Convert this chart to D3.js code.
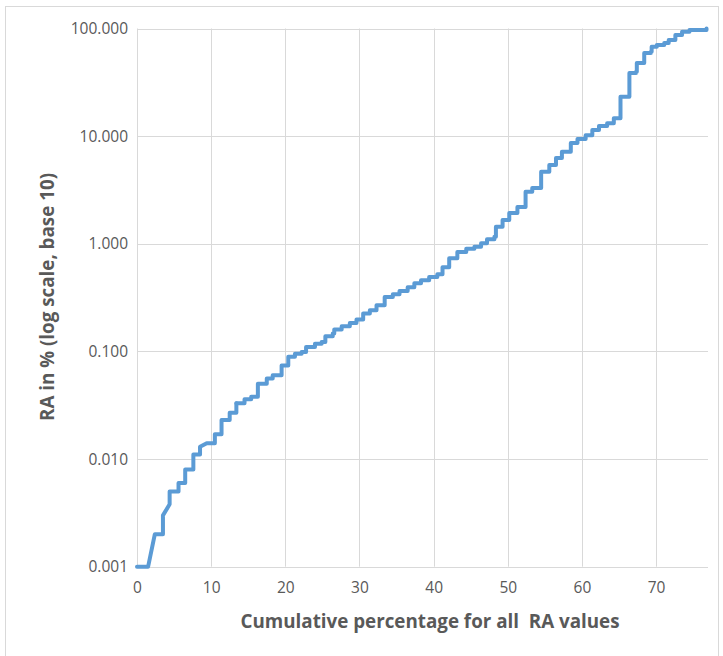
<!DOCTYPE html>
<html>
<head>
<meta charset="utf-8">
<script src="https://cdn.jsdelivr.net/npm/d3@7"></script>
<style>
  html, body { margin: 0; padding: 0; background: #ffffff; }
  svg { display: block; }
  text { font-family: "Open Sans", "Liberation Sans", sans-serif; fill: #595959; }
</style>
</head>
<body>
<svg id="chart" width="723" height="656"></svg>
<script>
// ---- data ----
const xTicks = [0, 10, 20, 30, 40, 50, 60, 70];
const yTicks = [0.001, 0.01, 0.1, 1, 10, 100];
const xTitle = "Cumulative percentage for all  RA values";
const yTitle = "RA in % (log scale, base 10)";

// cumulative percentage (x) and RA in % (y) of the stepped curve
const cumPct = [
  0, 1.5, 2.4, 3.5, 3.5, 4.4, 4.4, 5.6, 5.6, 6.5, 6.5, 7.6, 7.6, 8.5, 8.5, 9.4,
  10.5, 10.5, 11.4, 11.4, 12.5, 12.5, 13.4, 13.4, 14.5, 15.4, 16.3, 16.3, 17.5, 18.3,
  19.5, 19.5, 20.4, 21.3, 22.2, 22.8, 24.0, 24.9, 25.4, 26.4, 26.6, 27.6, 28.7, 29.6,
  30.5, 31.4, 32.3, 33.4, 34.5, 35.4, 36.5, 37.4, 38.3, 39.4, 40.5, 41.2, 42.1, 43.2,
  44.4, 45.5, 46.4, 47.2, 48.2, 48.4, 49.3, 50.2, 51.3, 52.4, 53.3, 54.5, 54.5, 55.6,
  56.5, 57.3, 58.5, 59.4, 60.5, 61.4, 62.3, 63.4, 64.3, 64.3, 65.2, 65.2, 66.4, 66.4,
  67.3, 67.4, 68.1, 68.4, 69.3, 69.4, 70.1, 71.1, 71.7, 72.6, 73.5, 74.5, 76.8
];
const raPct = [
  0.001, 0.001, 0.002, 0.002, 0.003, 0.0038, 0.005, 0.005, 0.006, 0.006, 0.008, 0.008,
  0.011, 0.011, 0.013, 0.014, 0.014, 0.017, 0.017, 0.023, 0.023, 0.027, 0.027, 0.033,
  0.036, 0.038, 0.041, 0.050, 0.056, 0.060, 0.066, 0.074, 0.089, 0.095, 0.099, 0.110,
  0.118, 0.122, 0.138, 0.147, 0.160, 0.171, 0.184, 0.198, 0.225, 0.241, 0.269, 0.321,
  0.340, 0.365, 0.395, 0.430, 0.459, 0.492, 0.521, 0.605, 0.734, 0.841, 0.897, 0.936,
  1.01, 1.10, 1.16, 1.44, 1.66, 1.93, 2.20, 3.04, 3.29, 3.66, 4.66, 5.38, 6.25, 7.15,
  8.62, 9.39, 10.2, 11.4, 12.4, 13.2, 13.6, 14.7, 16.4, 23.2, 24.1, 38.6, 39.7, 47.8,
  47.8, 59.2, 60.8, 67.7, 70.3, 73.3, 78.2, 87.0, 93.4, 96.8, 100
];
// the first points are joined straight; after this index the curve is drawn as steps
const stepFrom = 23;

// ---- layout ----
const plot = { left: 137, right: 708, top: 28.5, bottom: 566.7 };

const svg = d3.select("#chart");

// outer chart border
svg.append("rect")
  .attr("x", 5.5).attr("y", 6.5)
  .attr("width", 713).attr("height", 720)
  .attr("fill", "#ffffff")
  .attr("stroke", "#d9d9d9").attr("stroke-width", 1);

const x = d3.scaleLinear().domain([0, 77]).range([plot.left, plot.right]);
const y = d3.scaleLog().domain([0.001, 100]).range([plot.bottom, plot.top]);

// gridlines
const grid = svg.append("g");
grid.selectAll("line.v").data(xTicks).join("line")
  .attr("class", "v")
  .attr("x1", d => Math.round(x(d)) + 0.5).attr("x2", d => Math.round(x(d)) + 0.5)
  .attr("y1", plot.top).attr("y2", plot.bottom)
  .attr("stroke", "#d9d9d9").attr("stroke-width", 1);
grid.selectAll("line.h").data(yTicks).join("line")
  .attr("class", "h")
  .attr("x1", plot.left).attr("x2", plot.right)
  .attr("y1", d => Math.round(y(d)) + 0.5).attr("y2", d => Math.round(y(d)) + 0.5)
  .attr("stroke", "#d9d9d9").attr("stroke-width", 1);

// axes (labels only)
const xAxis = d3.axisBottom(x).tickValues(xTicks).tickSize(0).tickPadding(15).tickFormat(d3.format("d"));
const gx = svg.append("g").attr("transform", `translate(0,${plot.bottom})`).call(xAxis);
gx.select(".domain").remove();
gx.selectAll("text").style("font-size", "15.5px").style("fill", "#595959")
  .style("font-family", '"Open Sans", sans-serif');

const yAxis = d3.axisLeft(y).tickValues(yTicks).tickSize(0).tickPadding(9).tickFormat(d3.format(".3f"));
const gy = svg.append("g").attr("transform", `translate(${plot.left},0)`).call(yAxis);
gy.select(".domain").remove();
gy.selectAll("text").style("font-size", "15.5px").style("fill", "#595959")
  .style("font-family", '"Open Sans", sans-serif');

// data line
const pts = cumPct.map((c, i) => [c, raPct[i]]);
const lineStraight = d3.line().x(d => x(d[0])).y(d => y(d[1])).curve(d3.curveLinear);
const lineSteps = d3.line().x(d => x(d[0])).y(d => y(d[1])).curve(d3.curveStepAfter);
const lineG = svg.append("g")
  .attr("fill", "none")
  .attr("stroke", "#5b9bd5")
  .attr("stroke-width", 4)
  .attr("stroke-linejoin", "round")
  .attr("stroke-linecap", "round");
lineG.append("path").attr("d", lineStraight(pts.slice(0, stepFrom + 1)));
lineG.append("path").attr("d", lineSteps(pts.slice(stepFrom)));

// axis titles
svg.append("text")
  .attr("x", 430).attr("y", 628)
  .attr("text-anchor", "middle")
  .style("font-size", "18.8px").style("font-weight", "bold")
  .style("white-space", "pre")
  .text(xTitle);

svg.append("text")
  .attr("transform", `translate(54,297) rotate(-90)`)
  .attr("text-anchor", "middle")
  .style("font-size", "18.8px").style("font-weight", "bold")
  .text(yTitle);
</script>
</body>
</html>
